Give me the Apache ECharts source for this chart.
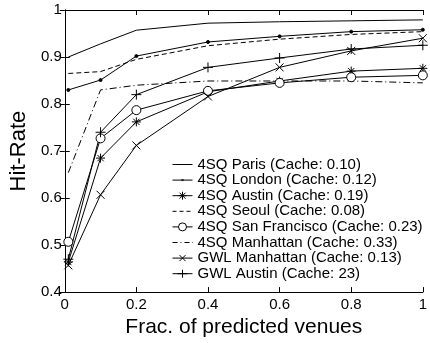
<!DOCTYPE html>
<html>
<head>
<meta charset="utf-8">
<script src="https://cdn.jsdelivr.net/npm/echarts@6/dist/echarts.min.js"></script>
<style>
  html, body { margin: 0; padding: 0; background: #fff; }
  #chart { width: 430px; height: 343px; }
</style>
</head>
<body>
<div id="chart"></div>
<script>
// fraction of predicted venues
var fracs = [0.01, 0.1, 0.2, 0.4, 0.6, 0.8, 1.0];

var names = [
  "4SQ Paris (Cache: 0.10)",
  "4SQ London (Cache: 0.12)",
  "4SQ Austin (Cache: 0.19)",
  "4SQ Seoul (Cache: 0.08)",
  "4SQ San Francisco (Cache: 0.23)",
  "4SQ Manhattan (Cache: 0.33)",
  "GWL Manhattan (Cache: 0.13)",
  "GWL Austin (Cache: 23)"
];

var paris = [0.900, 0.928, 0.957, 0.972, 0.975, 0.977, 0.979];
var london = [0.830, 0.851, 0.902, 0.932, 0.944, 0.954, 0.958];
var austin = [0.464, 0.685, 0.762, 0.826, 0.849, 0.870, 0.876];
var seoul = [0.865, 0.869, 0.895, 0.924, 0.938, 0.948, 0.954];
var sanFrancisco = [0.507, 0.727, 0.787, 0.828, 0.845, 0.857, 0.861];
var manhattan = [0.654, 0.830, 0.840, 0.849, 0.849, 0.849, 0.845];
var gwlManhattan = [0.457, 0.607, 0.712, 0.816, 0.878, 0.913, 0.940];
var gwlAustin = [0.470, 0.740, 0.820, 0.878, 0.898, 0.917, 0.925];

// stroked marker shapes (matlab style)
var plusSym = "path://M0,-5L0,5M-5,0L5,0";
var crossSym = "path://M-5,-5L5,5M-5,5L5,-5";
var starSym = "path://M0,-5L0,5M-5,0L5,0M-3.5,-3.5L3.5,3.5M-3.5,3.5L3.5,-3.5";
var ringSym = "path://M5,0A5,5 0 1 1 -5,0A5,5 0 1 1 5,0Z";

// legend icons: box is 20x10, M0,0 / M20,10 pin the bounds
var box = "path://M0,0M20,10";
var legendIcons = [
  box + "M0,5L20,5",
  box + "M0,5L20,5M9,4L11,6M9,6L11,4",
  box + "M0,5L20,5M10,1L10,9M6,5L14,5M7,2L13,8M7,8L13,2",
  box + "M0,5L4,5M7,5L11,5M14,5L18,5",
  box + "M0,5L6,5M14,5L20,5M14,5A4,4 0 1 1 6,5A4,4 0 1 1 14,5",
  box + "M0,5L5,5M8,5L9,5M12,5L17,5M19.5,5L20,5",
  box + "M0,5L20,5M7,2L13,8M7,8L13,2",
  box + "M0,5L20,5M10,1L10,9M5,5L15,5"
];

function pairs(ys) {
  var out = [];
  for (var i = 0; i < fracs.length; i++) out.push([fracs[i], ys[i]]);
  return out;
}

function mk(name, ys, lineType, symbol, size, fill) {
  return {
    name: name,
    type: "line",
    data: pairs(ys),
    symbol: symbol,
    symbolSize: size,
    showSymbol: symbol !== "none",
    animation: false,
    lineStyle: { color: "#000", width: 1, type: lineType },
    itemStyle: { color: fill, borderColor: "#000", borderWidth: 1 },
    emphasis: { disabled: true }
  };
}

var font = "Liberation Sans, Arial, Helvetica, sans-serif";

var legendData = names.map(function (n, i) {
  return {
    name: n,
    icon: legendIcons[i],
    itemStyle: { color: "none", borderColor: "#000", borderWidth: 1 }
  };
});

var chart = echarts.init(document.getElementById("chart"));

var option = {
  backgroundColor: "#fff",
  textStyle: { fontFamily: font, color: "#000" },
  grid: { left: 56, right: 3, top: 10, bottom: 43, containLabel: false },
  legend: {
    orient: "vertical",
    left: 170,
    top: 157,
    padding: 0,
    itemWidth: 20,
    itemHeight: 10,
    itemGap: 0.6,
    selectedMode: false,
    textStyle: { fontFamily: font, fontSize: 15, color: "#000" },
    data: legendData
  },
  xAxis: [
    {
      type: "value",
      min: 0, max: 1, interval: 0.2,
      name: "Frac. of predicted venues",
      nameLocation: "middle",
      nameGap: 22,
      nameTextStyle: { fontSize: 21, color: "#000", fontFamily: font },
      axisLine: { lineStyle: { color: "#000", width: 1 } },
      axisTick: { inside: true, length: 5, lineStyle: { color: "#000" } },
      axisLabel: {
        fontSize: 15, color: "#000", margin: 5,
        formatter: function (v) { return String(+v.toFixed(1)); }
      },
      splitLine: { show: false }
    },
    {
      type: "value",
      position: "top",
      min: 0, max: 1, interval: 0.2,
      axisLine: { show: true, lineStyle: { color: "#000", width: 1 } },
      axisTick: { inside: true, length: 5, lineStyle: { color: "#000" } },
      axisLabel: { show: false },
      splitLine: { show: false }
    }
  ],
  yAxis: [
    {
      type: "value",
      min: 0.4, max: 1, interval: 0.1,
      name: "Hit-Rate",
      nameLocation: "middle",
      nameGap: 30,
      nameTextStyle: { fontSize: 22, color: "#000", fontFamily: font },
      axisLine: { show: true, lineStyle: { color: "#000", width: 1 } },
      axisTick: { show: true, inside: true, length: 5, lineStyle: { color: "#000" } },
      axisLabel: {
        fontSize: 15, color: "#000", margin: 3,
        formatter: function (v) { return String(+v.toFixed(1)); }
      },
      splitLine: { show: false }
    },
    {
      type: "value",
      position: "right",
      min: 0.4, max: 1, interval: 0.1,
      axisLine: { show: true, lineStyle: { color: "#000", width: 1 } },
      axisTick: { show: true, inside: true, length: 5, lineStyle: { color: "#000" } },
      axisLabel: { show: false },
      splitLine: { show: false }
    }
  ],
  series: [
    mk(names[0], paris, "solid", "none", 0, "#000"),
    mk(names[1], london, "solid", "circle", 3, "#000"),
    mk(names[2], austin, "solid", starSym, 9, "rgba(0,0,0,0)"),
    mk(names[3], seoul, [5, 3], "none", 0, "#000"),
    mk(names[4], sanFrancisco, "solid", ringSym, 9, "#fff"),
    mk(names[5], manhattan, [7, 3, 1, 3], "none", 0, "#000"),
    mk(names[6], gwlManhattan, "solid", crossSym, 8, "rgba(0,0,0,0)"),
    mk(names[7], gwlAustin, "solid", plusSym, 10, "rgba(0,0,0,0)")
  ]
};

chart.setOption(option);
</script>
</body>
</html>
